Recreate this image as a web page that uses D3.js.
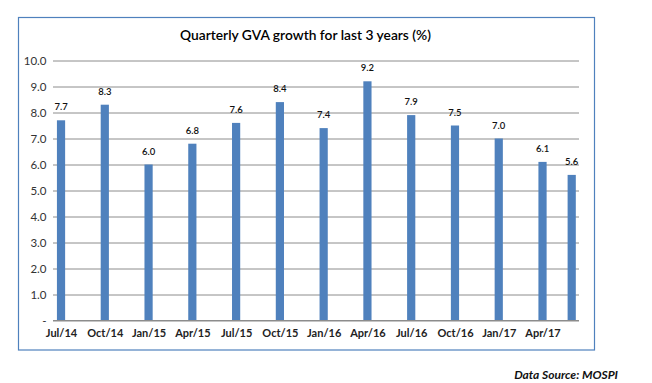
<!DOCTYPE html>
<html>
<head>
<meta charset="utf-8">
<script src="https://cdn.jsdelivr.net/npm/d3@7"></script>
<style>
  html, body { margin: 0; padding: 0; background: #fff; }
  svg { display: block; }
</style>
</head>
<body>
<svg id="chart" width="652" height="383"></svg>
<script>
// ---- data ----
const title = "Quarterly GVA growth for last 3 years (%)";
const source = "Data Source: MOSPI";
// month offset from Jul/14 for each bar (date axis, monthly base unit)
const barMonths = [0, 3, 6, 9, 12, 15, 18, 21, 24, 27, 30, 33, 35];
const values = [7.7, 8.3, 6.0, 6.8, 7.6, 8.4, 7.4, 9.2, 7.9, 7.5, 7.0, 6.1, 5.6];
const tickMonths = [0, 3, 6, 9, 12, 15, 18, 21, 24, 27, 30, 33];
const tickLabels = ["Jul/14", "Oct/14", "Jan/15", "Apr/15", "Jul/15", "Oct/15",
                    "Jan/16", "Apr/16", "Jul/16", "Oct/16", "Jan/17", "Apr/17"];
const yTicks = [0, 1, 2, 3, 4, 5, 6, 7, 8, 9, 10];

// ---- layout ----
const svg = d3.select("#chart");
const font = "Lato, 'Open Sans', sans-serif";
const plot = { left: 53, right: 579, top: 60.5, bottom: 320.5 };

const x = d3.scaleLinear().domain([-0.55, 35.5]).range([plot.left, plot.right]);
const y = d3.scaleLinear().domain([0, 10]).range([plot.bottom, plot.top]);

// chart border
svg.append("rect")
  .attr("x", 18.5).attr("y", 17.5)
  .attr("width", 576).attr("height", 332.5)
  .attr("fill", "none").attr("stroke", "#4F81BD").attr("stroke-width", 1.2);

// title
svg.append("text")
  .attr("x", 305.5).attr("y", 40)
  .attr("text-anchor", "middle")
  .attr("font-family", font).attr("font-size", 14).attr("font-weight", 600)
  .attr("fill", "#000")
  .attr("textLength", 251).attr("lengthAdjust", "spacingAndGlyphs")
  .text(title);

// gridlines + y labels
const yAxis = d3.axisLeft(y)
  .tickValues(yTicks)
  .tickSize(-(plot.right - plot.left))
  .tickPadding(6)
  .tickFormat(d => d === 0 ? "-" : d3.format(".1f")(d));
const gy = svg.append("g")
  .attr("transform", `translate(${plot.left},0)`)
  .call(yAxis);
gy.select(".domain").remove();
gy.selectAll(".tick line").attr("stroke", "#8c8c8c").attr("stroke-width", 1);
gy.selectAll(".tick text")
  .attr("font-family", font).attr("font-size", 11.5).attr("fill", "#333")
  .attr("x", -6.5);

// bars
const barW = 8.2;
svg.append("g").selectAll("rect")
  .data(values)
  .join("rect")
  .attr("x", (d, i) => x(barMonths[i]) - barW / 2)
  .attr("y", d => y(d))
  .attr("width", barW)
  .attr("height", d => y(0) - y(d))
  .attr("fill", "#4F81BD");

// baseline redraw on top
svg.append("line")
  .attr("x1", plot.left).attr("x2", plot.right)
  .attr("y1", y(0)).attr("y2", y(0))
  .attr("stroke", "#8c8c8c").attr("stroke-width", 1);

// value labels
svg.append("g").selectAll("text")
  .data(values)
  .join("text")
  .attr("x", (d, i) => x(barMonths[i]))
  .attr("y", d => y(d) - 10)
  .attr("text-anchor", "middle")
  .attr("font-family", font).attr("font-size", 9.5).attr("font-weight", 600)
  .attr("fill", "#111")
  .text(d => d3.format(".1f")(d));

// x axis labels
const xAxis = d3.axisBottom(x)
  .tickValues(tickMonths)
  .tickSize(0)
  .tickPadding(9)
  .tickFormat((d, i) => tickLabels[i]);
const gx = svg.append("g")
  .attr("transform", `translate(0,${plot.bottom})`)
  .call(xAxis);
gx.select(".domain").remove();
gx.selectAll(".tick text")
  .attr("font-family", font).attr("font-size", 11).attr("font-weight", 700)
  .attr("fill", "#222");

// source note
svg.append("text")
  .attr("x", 618).attr("y", 379)
  .attr("text-anchor", "end")
  .attr("font-family", font).attr("font-size", 12)
  .attr("font-weight", 700).attr("font-style", "italic")
  .attr("fill", "#111")
  .text(source);
</script>
</body>
</html>
